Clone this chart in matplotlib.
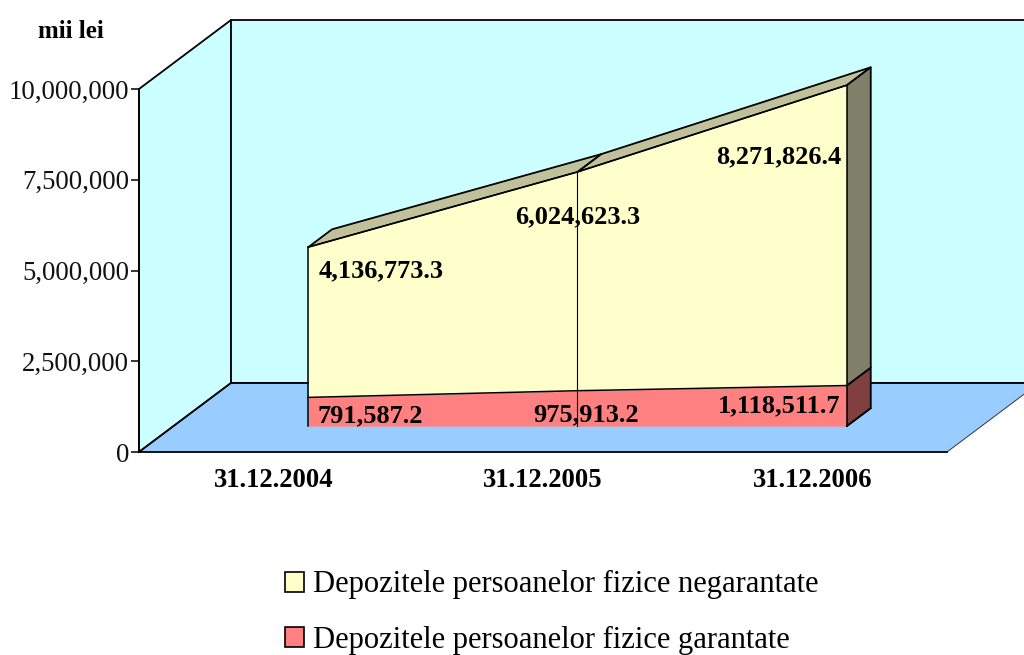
import matplotlib
matplotlib.use("Agg")
import matplotlib.pyplot as plt
from matplotlib.patches import Polygon, Patch
from matplotlib.ticker import FuncFormatter
import numpy as np

# data
dates = ['31.12.2004', '31.12.2005', '31.12.2006']
garantate = [791587.2, 975913.2, 1118511.7]
negarantate = [4136773.3, 6024623.3, 8271826.4]
y_ticks = [0, 2500000, 5000000, 7500000, 10000000]
unit = 'mii lei'
legend_names = ['Depozitele persoanelor fizice negarantate',
                'Depozitele persoanelor fizice garantate']

# layout (pixels of the 1024x655 figure)
W, H = 1024, 655
X0, Y0 = 139, 452        # origin of the front plane
CAT_PX = 269.33          # px per category
VAL_PX = 36.3 / 1e6      # px per unit
DEPTH_X = 92 / CAT_PX    # wall depth in category units
DEPTH_Y = 69 / VAL_PX    # wall depth in value units
FRONT, BACK = 0.375, 0.635  # where the area sits in the depth
YMAX = 10000000
NCAT = len(dates)

plt.rcParams['font.family'] = ['Liberation Serif', 'DejaVu Serif']

fig = plt.figure(figsize=(W / 100, H / 100), dpi=100)
ax = fig.add_axes([0, 0, 1, 1])
ax.set_xlim(-X0 / CAT_PX, (W - X0) / CAT_PX)
ax.set_ylim(-(H - Y0) / VAL_PX, Y0 / VAL_PX)

def poly(points, face, z=1, edge='black', lw=1.3):
    ax.add_patch(Polygon(points, closed=True, facecolor=face, edgecolor=edge,
                         linewidth=lw, zorder=z, joinstyle='round'))

def at(x, y, d):
    # point x,y pushed back by depth fraction d
    return (x + d * DEPTH_X, y + d * DEPTH_Y)

# walls and floor
poly([at(0, 0, 0), at(0, YMAX, 0), at(0, YMAX, 1), at(0, 0, 1)], '#CCFFFF')
poly([at(0, 0, 1), at(0, YMAX, 1), at(NCAT, YMAX, 1), at(NCAT, 0, 1)], '#CCFFFF')
poly([at(0, 0, 0), at(NCAT, 0, 0), at(NCAT, 0, 1), at(0, 0, 1)], '#99CCFF', edge='none')
floor_left = [at(0, 0, 0), at(0, 0, 1), at(NCAT, 0, 1)]
ax.plot([p[0] for p in floor_left], [p[1] for p in floor_left], color='black', lw=1.3, zorder=1.5)
floor_right = [at(NCAT, 0, 0), at(NCAT, 0, 1)]
ax.plot([p[0] for p in floor_right], [p[1] for p in floor_right], color='#333333', lw=0.7, zorder=1.5)

x = np.arange(NCAT) + 0.5
low = np.array(garantate)
top = low + np.array(negarantate)

# top face of the yellow area
for i in range(NCAT - 1):
    poly([at(x[i], top[i], FRONT), at(x[i + 1], top[i + 1], FRONT),
          at(x[i + 1], top[i + 1], BACK), at(x[i], top[i], BACK)], '#C0C09A', z=2)

# right side faces
last = NCAT - 1
poly([at(x[last], 0, FRONT), at(x[last], low[last], FRONT),
      at(x[last], low[last], BACK), at(x[last], 0, BACK)], '#804040', z=2)
poly([at(x[last], low[last], FRONT), at(x[last], top[last], FRONT),
      at(x[last], top[last], BACK), at(x[last], low[last], BACK)], '#80806A', z=2)

# front faces
fx = x + FRONT * DEPTH_X
fy = FRONT * DEPTH_Y
ax.fill_between(fx, fy, low + fy, color='#FF8080', linewidth=0, zorder=3)
ax.fill_between(fx, low + fy, top + fy, color='#FFFFCC', linewidth=0, zorder=3)
ax.plot(fx, low + fy, color='black', lw=1.1, zorder=4)
ax.plot(fx, top + fy, color='black', lw=1.1, zorder=4)
for i in range(NCAT):
    lw = 0.8 if i == 1 else 1.1
    ax.plot([fx[i], fx[i]], [fy, top[i] + fy], color='black', lw=lw, zorder=4)
ax.plot([fx[last], fx[last] + (BACK - FRONT) * DEPTH_X],
        [fy, fy + (BACK - FRONT) * DEPTH_Y], color='black', lw=1.1, zorder=4)

# value labels, offset from the point they belong to (pixels)
neg_off = [(73, -24), (0, -45), (-68, -72)]
gar_off = [(62, -18), (9, -24), (-68, -20)]
for i in range(NCAT):
    ax.annotate(f'{negarantate[i]:,.1f}', (fx[i], top[i] + fy),
                xytext=(neg_off[i][0] * 0.72, neg_off[i][1] * 0.72),
                textcoords='offset points', ha='center', va='center',
                fontsize=19, fontweight='bold', zorder=6)
    ax.annotate(f'{garantate[i]:,.1f}', (fx[i], low[i] + fy),
                xytext=(gar_off[i][0] * 0.72, gar_off[i][1] * 0.72),
                textcoords='offset points', ha='center', va='center',
                fontsize=19, fontweight='bold', zorder=6)

# axes
for s in ['top', 'right']:
    ax.spines[s].set_visible(False)
ax.spines['left'].set_position(('data', 0))
ax.spines['left'].set_bounds(0, YMAX)
ax.spines['bottom'].set_position(('data', 0))
ax.spines['bottom'].set_bounds(0, NCAT)
ax.spines['left'].set_linewidth(1.3)
ax.spines['bottom'].set_linewidth(1.3)
ax.set_yticks(y_ticks)
ax.yaxis.set_major_formatter(FuncFormatter(lambda v, p: f'{v:,.0f}'))
ax.tick_params(axis='y', length=5.8, width=1.1, pad=1.2, labelsize=19.3, labelcolor='#111111')
ax.set_xticks(x)
ax.set_xticklabels(dates, fontweight='bold')
ax.tick_params(axis='x', length=0, pad=11.5, labelsize=19.2)

ax.text(71 / CAT_PX - X0 / CAT_PX, (Y0 - 31) / VAL_PX, unit, ha='center', va='center',
        fontsize=18, fontweight='bold')

handles = [Patch(facecolor='#FFFFCC', edgecolor='black', linewidth=1.2),
           Patch(facecolor='#FF8080', edgecolor='black', linewidth=1.2)]
ax.legend(handles, legend_names, loc='lower left', bbox_to_anchor=(285 / W, 0 / H),
          frameon=False, fontsize=22, handlelength=0.62, handleheight=0.62,
          handletextpad=0.3, labelspacing=0.87, borderpad=0, borderaxespad=0)

fig.savefig('out.png', dpi=100)
